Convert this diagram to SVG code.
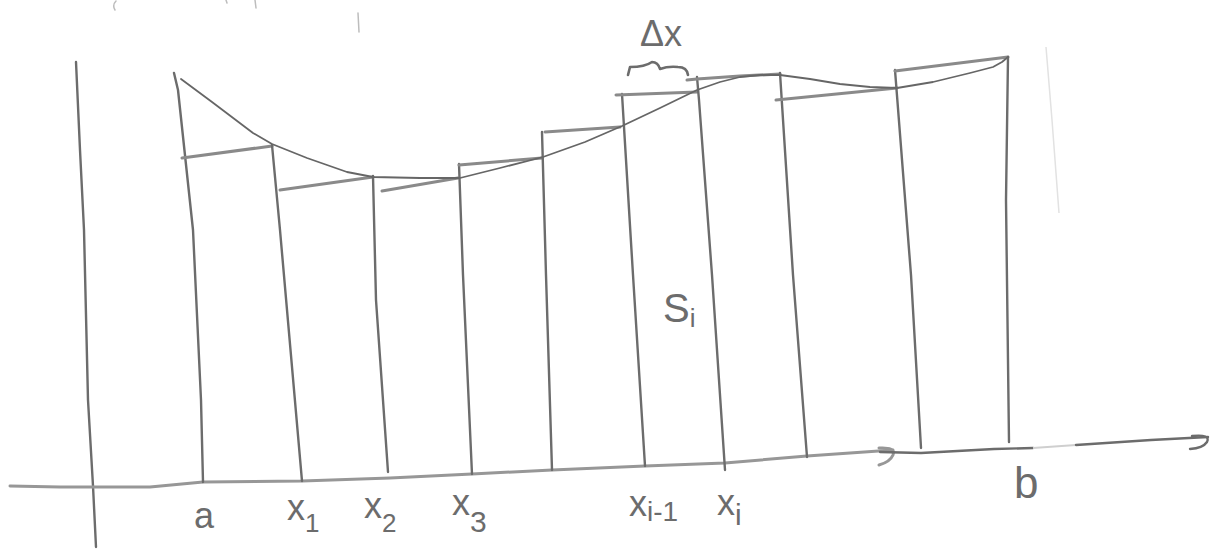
<svg xmlns="http://www.w3.org/2000/svg" width="1217" height="550" viewBox="0 0 1217 550">
<style>
.v{fill:none;stroke:#6c6c6c;stroke-width:2.4;stroke-linecap:round;stroke-linejoin:round}
.t{fill:none;stroke:#8a8a8a;stroke-width:3;stroke-linecap:round;stroke-linejoin:round}
.c{fill:none;stroke:#666;stroke-width:1.8;stroke-linecap:round;stroke-linejoin:round}
.br{fill:none;stroke:#6c6c6c;stroke-width:2.6;stroke-linecap:round;stroke-linejoin:round}
.ax{fill:none;stroke:#979797;stroke-width:3;stroke-linecap:round;stroke-linejoin:round}
.faint{fill:none;stroke:#bdbdbd;stroke-width:1.5;stroke-linecap:round}
.lbl{font-family:"Liberation Sans",Arial,sans-serif;fill:#6c6c6c}
</style>
<rect width="1217" height="550" fill="#fff"/>
<g id="fragments">
<path class="faint" d="M116,1 Q112,5 115,10"/>
<path class="faint" d="M226,0 L227,3"/>
<path class="faint" d="M255,0 L256,8"/>
<path class="faint" d="M358,13 L359,32"/>
<path d="M1046,47 L1052,120 L1059,213" fill="none" stroke="#e2e2e2" stroke-width="1.5"/>
</g>
<g id="axes">
<polyline id="y-axis" class="v" points="76,62 80,150 84,230 88,400 93,486 96,547"/>
<polyline id="x-axis" class="ax" points="10,486 60,487 93,487 150,487 203,482 302,481 390,478 472,474 552,470 645,466 725,463 807,456 893,450"/>
<path class="ax" d="M879,448 Q896,447 893,455 Q890,462 879,465"/>
<polyline class="v" points="880,452 921,453 994,449 1033,448"/>
<polyline fill="none" stroke="#cfcfcf" stroke-width="2" points="1033,448 1076,445"/>
<polyline class="v" points="1076,445 1151,440 1208,437"/>
<path class="v" d="M1192,436 Q1211,434 1207,442 Q1203,448 1190,449"/>
</g>
<g id="rectangles">
<g id="rect-1">
<polyline class="v" points="174,73 178,90 193,230 201,400 203,482"/>
<polyline class="t" points="182,158 272,146"/>
</g>
<g id="rect-2">
<polyline class="v" points="272,145 280,230 302,481"/>
<polyline class="t" points="280,190 373,177"/>
</g>
<g id="rect-3">
<polyline class="v" points="373,176 376,300 388,472"/>
<polyline class="t" points="382,191 458,178"/>
</g>
<g id="rect-4">
<polyline class="v" points="459,164 463,275 472,474"/>
<polyline class="t" points="459,165 542,158"/>
</g>
<g id="rect-5">
<polyline class="v" points="542,132 546,275 552,470"/>
<polyline class="t" points="545,132 620,127"/>
</g>
<g id="rect-6">
<polyline class="v" points="622,94 633,275 645,466"/>
<polyline class="t" points="616,95 697,92"/>
</g>
<g id="rect-7">
<polyline class="v" points="697,77 699,100 712,275 725,470"/>
<polyline class="t" points="687,80 697,79 740,76 780,74"/>
</g>
<g id="rect-8">
<polyline class="v" points="780,73 793,275 807,457"/>
<polyline class="t" points="776,100 897,88"/>
</g>
<g id="rect-9">
<polyline class="v" points="895,70 911,275 921,448"/>
<polyline class="t" points="895,71 1008,57"/>
</g>
<g id="rect-10">
<polyline class="v" points="1008,57 1006,200 1009,442"/>
</g>
</g>
<g id="curve">
<polyline class="c" points="181,79 212,102 253,133 272,144 307,158 347,172 373,177 420,178 460,178 500,168 543,157 585,142 622,126 660,108 697,90 720,82 740,77 760,75 780,75 810,79 840,84 870,87 897,88 933,82 970,73 993,67 1002,62 1008,57"/>
</g>
<g id="delta-x">
<path class="br" d="M628,75 L630,67 Q645,67 652,62 Q658,62 660,69 Q668,66 678,67 Q687,67 688,75"/>
<text class="lbl" x="640" y="46" font-size="36">Δx</text>
</g>
<g id="labels">
<text class="lbl" x="663" y="322" font-size="40">S<tspan font-size="26" dy="5">i</tspan></text>
<text class="lbl" x="194" y="528" font-size="36">a</text>
<text class="lbl" x="287" y="520" font-size="36">x<tspan font-size="26" dy="12">1</tspan></text>
<text class="lbl" x="364" y="518" font-size="36">x<tspan font-size="26" dy="14">2</tspan></text>
<text class="lbl" x="452" y="515" font-size="36">x<tspan font-size="30" dy="17">3</tspan></text>
<text class="lbl" x="629" y="516" font-size="36">x<tspan font-size="28" dy="5">i-1</tspan></text>
<text class="lbl" x="717" y="515" font-size="36">x<tspan font-size="30" dy="10">i</tspan></text>
<text class="lbl" x="1014" y="498" font-size="44">b</text>
</g>
</svg>
